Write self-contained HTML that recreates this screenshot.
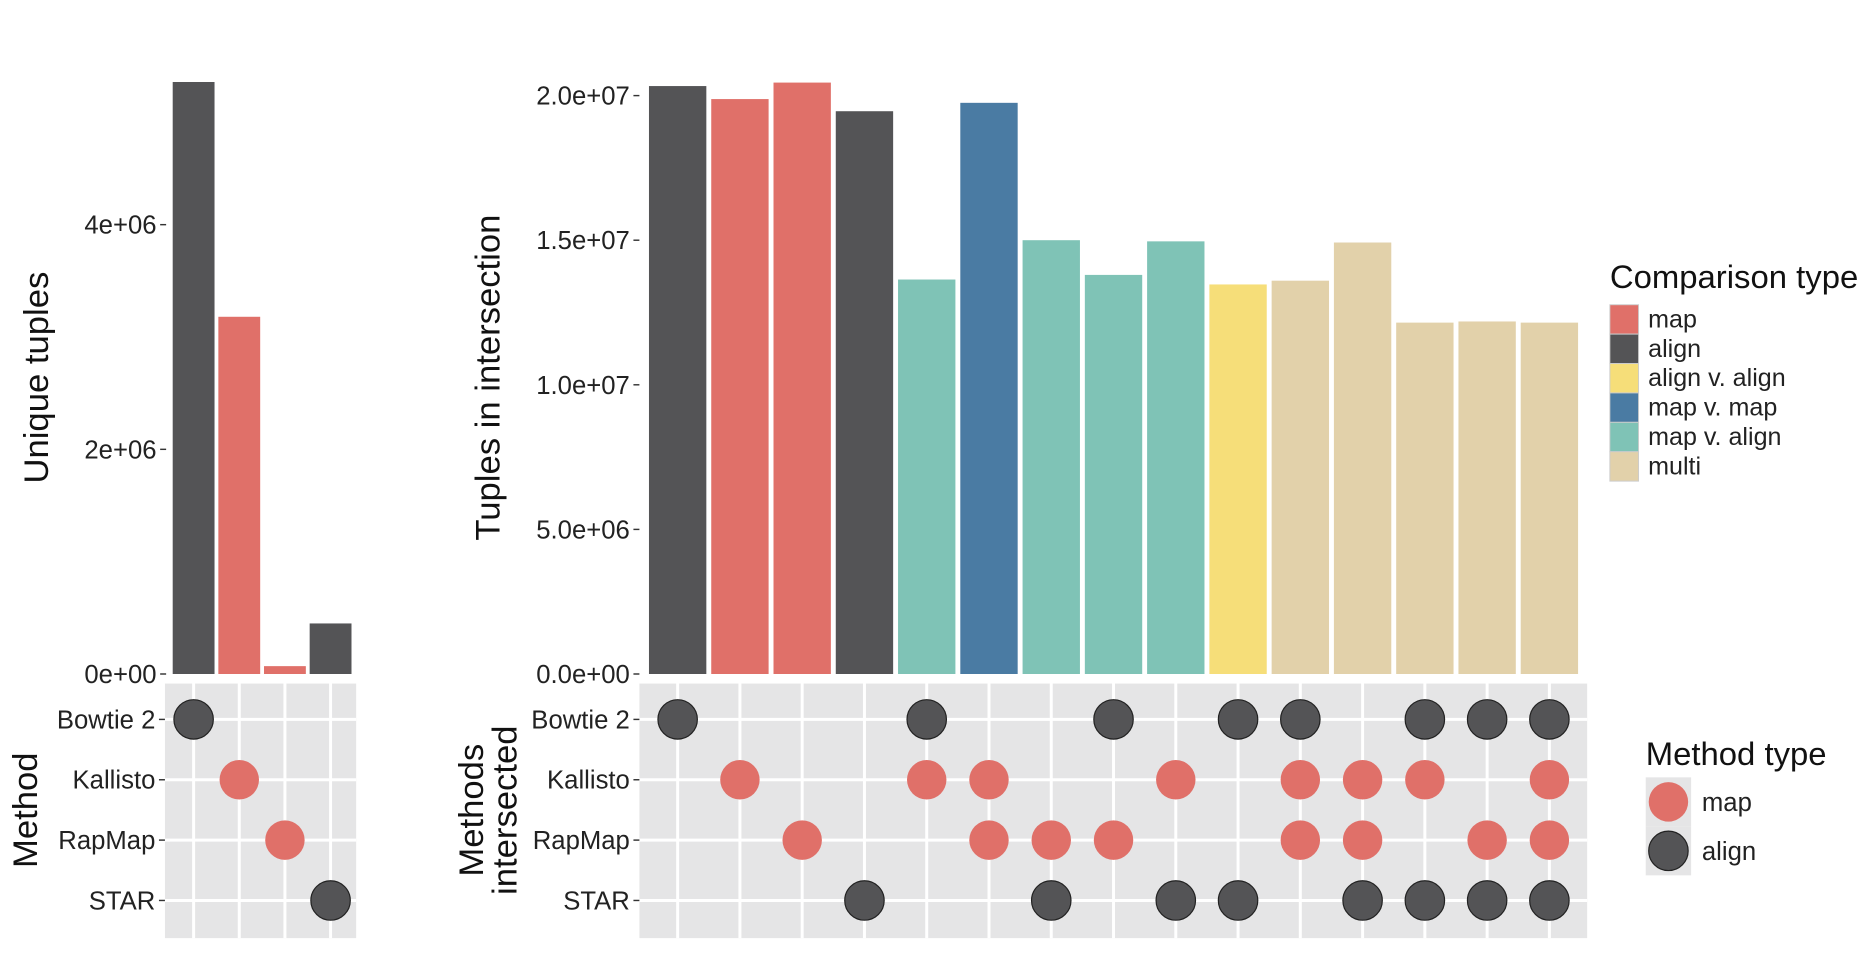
<!DOCTYPE html>
<html><head><meta charset="utf-8"><style>
html,body{margin:0;padding:0;background:#fff;}
svg{display:block;font-family:"Liberation Sans",sans-serif;}
</style></head><body>
<svg id="chart" width="1874" height="962" viewBox="0 0 1568 805" preserveAspectRatio="none"></svg>
<script>
const methods = ["Bowtie 2","Kallisto","RapMap","STAR"];
const methodTypes = ["align","map","map","align"];
const uniqueValues = [5.27e6, 3.18e6, 0.07e6, 0.45e6];
const leftTicks = [0, 2e6, 4e6];
const leftTickLabels = ["0e+00","2e+06","4e+06"];
const interValues = [2.033e7,1.988e7,2.045e7,1.946e7,1.364e7,1.975e7,1.50e7,1.38e7,1.496e7,1.347e7,1.36e7,1.492e7,1.215e7,1.219e7,1.215e7];
const interTypes = ["align","map","map","align","map v. align","map v. map","map v. align","map v. align","map v. align","align v. align","multi","multi","multi","multi","multi"];
const interSets = [[0],[1],[2],[3],[0,1],[1,2],[2,3],[0,2],[1,3],[0,3],[0,1,2],[1,2,3],[0,1,3],[0,2,3],[0,1,2,3]];
const mainTicks = [0,5e6,1e7,1.5e7,2e7];
const mainTickLabels = ["0.0e+00","5.0e+06","1.0e+07","1.5e+07","2.0e+07"];
const compTypes = ["map","align","align v. align","map v. map","map v. align","multi"];
const colors = {"map":"#e07069","align":"#545456","align v. align":"#f6de79","map v. map":"#4a7ba3","map v. align":"#7fc3b6","multi":"#e2d1aa"};

const NS="http://www.w3.org/2000/svg";
const svg=document.getElementById('chart');
function mk(tag,attrs,parent){const e=document.createElementNS(NS,tag);for(const k in attrs)e.setAttribute(k,attrs[k]);(parent||svg).appendChild(e);return e;}
function txt(s,attrs,parent){const e=mk('text',attrs,parent);e.textContent=s;return e;}

const yL=v=>564-v*94/1e6;
const xL=i=>162+i*38.2;
uniqueValues.forEach((v,i)=>{
  const r=mk('rect',{x:xL(i)-17.5,y:yL(v),width:35,height:564-yL(v),fill:colors[methodTypes[i]]});
  
  
});
leftTicks.forEach((t,i)=>{
  mk('line',{x1:134,x2:139,y1:yL(t),y2:yL(t),stroke:'#333','stroke-width':1.2});
  const e=txt(leftTickLabels[i],{x:131,y:yL(t)+7.5,'text-anchor':'end','font-size':21.5,fill:'#222'});
  
  
});
let t=txt('Unique tuples',{transform:'translate(40,316) rotate(-90)','text-anchor':'middle','font-size':29,fill:'#111'});


const yM=v=>564-v*242/1e7;
const xM=i=>567+i*52.1;
interValues.forEach((v,i)=>{
  const r=mk('rect',{x:xM(i)-24,y:yM(v),width:48,height:564-yM(v),fill:colors[interTypes[i]]});
  
  
});
mainTicks.forEach((tv,i)=>{
  mk('line',{x1:530,x2:535,y1:yM(tv),y2:yM(tv),stroke:'#333','stroke-width':1.2});
  const e=txt(mainTickLabels[i],{x:527,y:yM(tv)+7.5,'text-anchor':'end','font-size':21.5,fill:'#222'});
  
  
});
t=txt('Tuples in intersection',{transform:'translate(418,316) rotate(-90)','text-anchor':'middle','font-size':29,fill:'#111'});


const rowY=j=>602+j*50.5;
function matrix(x0,x1,cols,xf,name){
  const bg=mk('rect',{x:x0,y:572,width:x1-x0,height:213,fill:'#e5e5e6'});
  
  for(let i=0;i<cols;i++){mk('line',{x1:xf(i),x2:xf(i),y1:572,y2:785,stroke:'#fff','stroke-width':2.5});}
  methods.forEach((m,j)=>{
    mk('line',{x1:x0,x2:x1,y1:rowY(j),y2:rowY(j),stroke:'#fff','stroke-width':2.5});
    mk('line',{x1:x0-5,x2:x0,y1:rowY(j),y2:rowY(j),stroke:'#333','stroke-width':1.2});
    const e=txt(m,{x:x0-8,y:rowY(j)+7.5,'text-anchor':'end','font-size':21.5,fill:'#222'});
    
    
  });
}
matrix(138,298,4,xL,'method-matrix');
methods.forEach((m,i)=>{
  const c=mk('circle',{cx:xL(i),cy:rowY(i),r:16.5,fill:colors[methodTypes[i]],stroke:methodTypes[i]==='align'?'#222':'none','stroke-width':1});
  
  
});
matrix(535,1328,15,xM,'intersection-matrix');
interSets.forEach((s,i)=>{
  s.forEach(j=>{
    const c=mk('circle',{cx:xM(i),cy:rowY(j),r:16.5,fill:colors[methodTypes[j]],stroke:methodTypes[j]==='align'?'#222':'none','stroke-width':1});
    
    
  });
});
t=txt('Method',{transform:'translate(31,678) rotate(-90)','text-anchor':'middle','font-size':29,fill:'#111'});

t=txt('Methods',{transform:'translate(404,678) rotate(-90)','text-anchor':'middle','font-size':29,fill:'#111'});

t=txt('intersected',{transform:'translate(432,678) rotate(-90)','text-anchor':'middle','font-size':29,fill:'#111'});


t=txt('Comparison type',{x:1347,y:241,'font-size':27.5,fill:'#111'});

compTypes.forEach((c,i)=>{
  const y=255+i*24.6;
  const r=mk('rect',{x:1347,y:y,width:24,height:24.6,fill:colors[c],stroke:'#ccc','stroke-width':0.8});
  
  
  const e=txt(c,{x:1379,y:y+19,'font-size':21,fill:'#222'});
  
  
});
t=txt('Method type',{x:1377,y:640,'font-size':27.5,fill:'#111'});

["map","align"].forEach((m,i)=>{
  const y=671+i*41;
  mk('rect',{x:1377,y:y-20.5,width:38,height:41,fill:'#e5e5e6'});
  const c=mk('circle',{cx:1396,cy:y,r:16.5,fill:colors[m],stroke:m==='align'?'#222':'none','stroke-width':1});
  
  const e=txt(m,{x:1424,y:y+7.5,'font-size':21.5,fill:'#222'});
  
});
</script>
</body></html>
